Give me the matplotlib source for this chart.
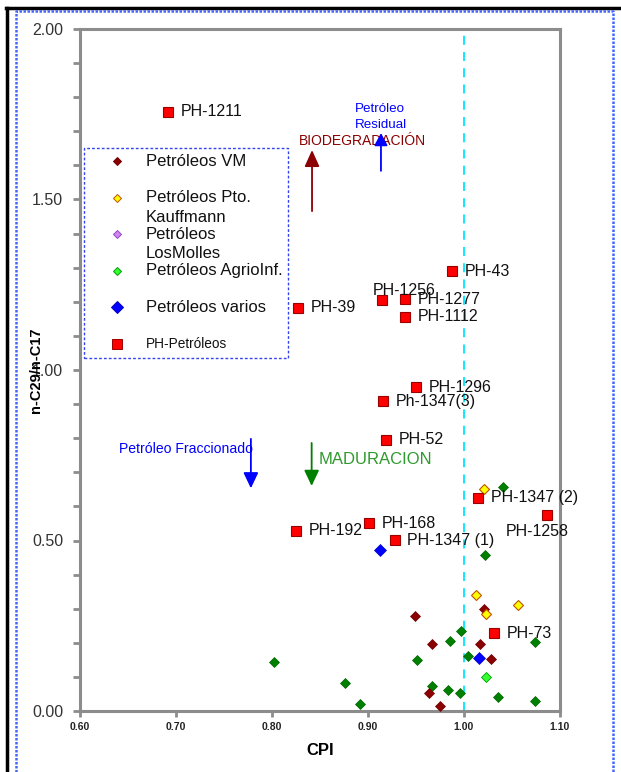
"""
    CPI vs n-C29/n-C17 cross plot for the crude oil samples,
    with the PH wells labelled and the alteration trends marked.
"""

import matplotlib.pyplot as plt
from matplotlib.lines import Line2D
from matplotlib.patches import Rectangle

plt.rcParams['font.family'] = ['Liberation Sans', 'DejaVu Sans']

"""
==================================================================================
"""

# Petróleos VM (dark red diamonds)
vmCpi = [0.949, 0.967, 1.0205, 1.0167, 1.0278, 0.964, 0.9753]
vmRatio = [0.279, 0.197, 0.299, 0.197, 0.1525, 0.054, 0.014]

# Petróleos Pto. Kauffmann (yellow diamonds)
ptoCpi = [1.0125, 1.056, 1.0232, 1.0208]
ptoRatio = [0.341, 0.310, 0.2835, 0.650]

# Petróleos AgrioInf. (light green)
agrioCpi = [1.0232]
agrioRatio = [0.101]

# Petróleos varios (blue diamonds)
variosCpi = [0.9125, 1.016]
variosRatio = [0.471, 0.154]

# Other samples (dark green diamonds, not in the legend)
otherCpi = [0.802, 0.876, 0.8915, 0.951, 0.967, 0.985, 0.983, 0.997,
            0.9955, 1.004, 1.035, 1.0736, 1.0736, 1.022, 1.041]
otherRatio = [0.144, 0.081, 0.021, 0.150, 0.074, 0.206, 0.063, 0.234,
              0.054, 0.162, 0.041, 0.201, 0.028, 0.457, 0.657]

# PH-Petróleos (red squares)
phNames = ["PH-1211", "PH-43", "PH-1256", "PH-1277", "PH-1112", "PH-39",
           "PH-1296", "Ph-1347(3)", "PH-52", "PH-1347 (2)", "PH-1258",
           "PH-192", "PH-168", "PH-1347 (1)", "PH-73"]
phCpi = [0.692, 0.9875, 0.9146, 0.9385, 0.9385, 0.827, 0.950, 0.9156,
         0.919, 1.0146, 1.0861, 0.825, 0.901, 0.928, 1.031]
phRatio = [1.757, 1.290, 1.206, 1.208, 1.156, 1.183, 0.950, 0.909,
           0.795, 0.625, 0.574, 0.528, 0.551, 0.501, 0.228]

# label offsets in points (dx, dy) from each PH marker
phOffsets = [(9, 0), (9, 0), (-6.5, 7), (9, 0), (9, 0), (9, 0),
             (9, 0), (9, 0), (9, 0), (9, 0), (-29.5, -12),
             (9, 0), (9, 0), (9, 0), (9, 0)]

yTicks = [0.0, 0.5, 1.0, 1.5, 2.0]
xTicks = [0.60, 0.70, 0.80, 0.90, 1.00, 1.10]

"""
==================================================================================
"""

def drawArrow(ax, tail, tip, color, width, length):
    ax.annotate("", xy=tip, xytext=tail,
                arrowprops=dict(arrowstyle=f"-|>,head_width={width},head_length={length}",
                                color=color, lw=1.3, shrinkA=0, shrinkB=0,
                                mutation_scale=10))


def plotCrossPlot():
    fig = plt.figure(figsize=(6.21, 7.72), dpi=100)
    ax = fig.add_axes([80 / 621, 61 / 772, 480 / 621, 682 / 772])

    ax.set_xlim(0.6, 1.1)
    ax.set_ylim(0, 2)

    # reference line at CPI = 1
    ax.axvline(1.0, color="#00E5FF", ls=(0, (5, 4)), lw=1.3, zorder=1)

    ax.plot(otherCpi, otherRatio, ls="none", marker="D", ms=5.2,
            mfc="#008000", mec="#006400", mew=0.5, zorder=3)
    ax.plot(vmCpi, vmRatio, ls="none", marker="D", ms=4.8,
            mfc="#8B0000", mec="#700000", mew=0.5, zorder=3)
    ax.plot(ptoCpi, ptoRatio, ls="none", marker="D", ms=5.0,
            mfc="#FFFF00", mec="#C05000", mew=0.8, zorder=3)
    ax.plot(agrioCpi, agrioRatio, ls="none", marker="D", ms=5.2,
            mfc="#33FF33", mec="#00A000", mew=0.6, zorder=3)
    ax.plot(variosCpi, variosRatio, ls="none", marker="D", ms=6.5,
            mfc="#0000FF", mec="#0000CC", mew=0.5, zorder=3)
    ax.plot(phCpi, phRatio, ls="none", marker="s", ms=7.5,
            mfc="#FF0000", mec="#990000", mew=0.8, zorder=4)

    for name, x, y, off in zip(phNames, phCpi, phRatio, phOffsets):
        ax.annotate(name, (x, y), xytext=off, textcoords="offset points",
                    ha="left", va="center", fontsize=11.5, color="#111111", zorder=5)

    # trend arrows
    drawArrow(ax, (0.8417, 1.466), (0.8417, 1.645), "#8B0000", 0.45, 1.0)
    ax.text(0.828, 1.672, "BIODEGRADACIÓN", color="#8B0000", fontsize=10,
            ha="left", va="center")

    drawArrow(ax, (0.9135, 1.584), (0.9135, 1.695), "#0000FF", 0.4, 0.75)
    ax.text(0.8865, 1.741, "Petróleo\nResidual", color="#0000FF", fontsize=9.6,
            ha="left", va="center", linespacing=1.45)

    drawArrow(ax, (0.778, 0.798), (0.778, 0.653), "#0000FF", 0.45, 0.95)
    ax.text(0.6406, 0.768, "Petróleo Fraccionado", color="#0000FF", fontsize=10.1,
            ha="left", va="center")

    drawArrow(ax, (0.8413, 0.786), (0.8413, 0.660), "#008000", 0.45, 0.95)
    ax.text(0.849, 0.738, "MADURACION", color="#2E9A2E", fontsize=12,
            ha="left", va="center")

    # axes styling
    for spine in ax.spines.values():
        spine.set_color("#8C8C8C")
        spine.set_linewidth(2.2)

    ax.set_yticks(yTicks)
    ax.set_yticklabels([f"{t:.2f}" for t in yTicks])
    ax.set_yticks([i / 10 for i in range(21)], minor=True)
    ax.set_xticks(xTicks)
    ax.set_xticklabels([f"{t:.2f}" for t in xTicks])

    ax.tick_params(axis="y", which="both", length=5, width=2, color="#8C8C8C",
                   labelsize=11.5, labelcolor="#333333", pad=7)
    ax.tick_params(axis="x", which="both", length=4, width=2, color="#8C8C8C",
                   labelsize=7.5, labelcolor="#222222", pad=4)
    for label in ax.get_xticklabels():
        label.set_fontweight("bold")

    ax.set_xlabel("CPI", fontsize=12, fontweight="bold")
    ax.xaxis.set_label_coords(0.5, -0.047)
    ax.set_ylabel("n-C29/n-C17", fontsize=10.5, fontweight="bold")
    ax.yaxis.set_label_coords(-0.078, 0.5)

    # hand-drawn legend box
    legendLabels = ["Petróleos VM", "Petróleos Pto.\nKauffmann", "Petróleos\nLosMolles",
                    "Petróleos AgrioInf.", "Petróleos varios", "PH-Petróleos"]
    legendFaces = ["#8B0000", "#FFFF00", "#CC88EE", "#33FF33", "#0000FF", "#FF0000"]
    legendEdges = ["#700000", "#C05000", "#9944CC", "#00A000", "#0000CC", "#990000"]
    legendMarkers = ["D", "D", "D", "D", "D", "s"]
    legendSizes = [4.2, 4.2, 4.2, 4.2, 6.5, 7.5]
    legendFonts = [12, 12, 12, 12, 12, 9.8]

    def figX(px):
        return px / 621

    def figY(py):
        return 1 - py / 772

    fig.patches.append(Rectangle((figX(84), figY(358)), figX(288) - figX(84), figY(148) - figY(358),
                                 transform=fig.transFigure, fill=False, ec="#3344EE",
                                 lw=1.0, ls=(0, (2, 1.5)), zorder=6))
    for i, label in enumerate(legendLabels):
        rowPx = 161 + i * 36.6
        fig.add_artist(Line2D([figX(117)], [figY(rowPx)], transform=fig.transFigure, ls="none",
                              marker=legendMarkers[i], ms=legendSizes[i],
                              mfc=legendFaces[i], mec=legendEdges[i], mew=0.7))
        # wrapped labels spill downward from the marker row
        for j, line in enumerate(label.split("\n")):
            fig.text(figX(146), figY(rowPx + j * 19.5), line, fontsize=legendFonts[i],
                     ha="left", va="center", color="#111111")

    # outer frame: black edge on top/left, blue dotted inner frame
    fig.add_artist(Line2D([figX(6), 1], [figY(8), figY(8)], transform=fig.transFigure,
                          color="black", lw=2.5))
    fig.add_artist(Line2D([figX(7), figX(7)], [0, figY(8)], transform=fig.transFigure,
                          color="black", lw=2.5))
    fig.add_artist(Line2D([figX(16), figX(16), figX(613), figX(613)], [0, figY(11), figY(11), 0],
                          transform=fig.transFigure, color="#4466FF", lw=1.8, ls=(0, (1, 0.6))))

    fig.savefig("out.png", dpi=100)


plotCrossPlot()
